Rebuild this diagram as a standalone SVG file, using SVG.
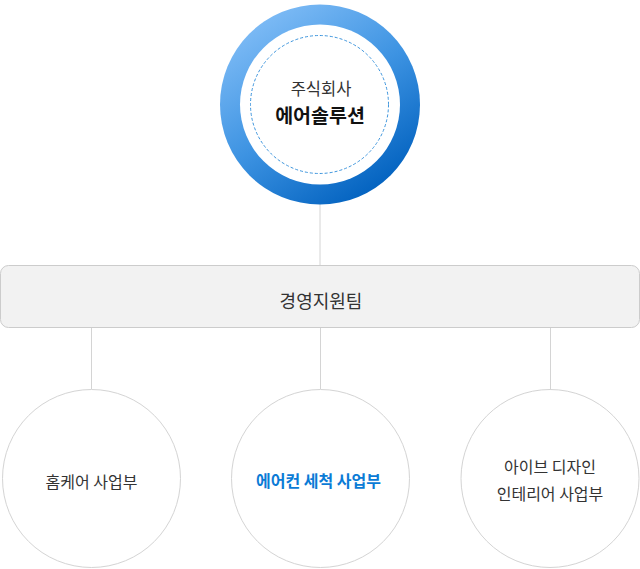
<svg xmlns="http://www.w3.org/2000/svg" width="640" height="569" viewBox="0 0 640 569">
<defs>
<linearGradient id="ring" x1="0.2" y1="0.05" x2="0.8" y2="0.95">
<stop offset="0" stop-color="#7fbcf6"/>
<stop offset="0.5" stop-color="#3d93e2"/>
<stop offset="1" stop-color="#0060be"/>
</linearGradient>
</defs>
<style>
text{font-family:"Noto Sans CJK KR","Noto Sans",sans-serif;text-anchor:middle;fill:#333}
.line{stroke:#d4d4d4;stroke-width:1;fill:none}
.unit{fill:#fff;stroke:#d4d4d4;stroke-width:1}
</style>
<g id="connectors">
<line class="line" x1="320" y1="200" x2="320" y2="265.5"/>
<line class="line" x1="91.5" y1="328" x2="91.5" y2="389"/>
<line class="line" x1="320.5" y1="328" x2="320.5" y2="389"/>
<line class="line" x1="550.5" y1="328" x2="550.5" y2="389"/>
</g>
<g id="company">
<circle cx="320" cy="104.5" r="100" fill="url(#ring)"/>
<circle cx="320" cy="104.5" r="80" fill="#fff"/>
<circle cx="319.5" cy="104.5" r="69" fill="none" stroke="#3d95dd" stroke-width="1" stroke-dasharray="3,2"/>
<text x="321" y="94.5" font-size="16.5">주식회사</text>
<text x="320" y="123" font-size="19.5" font-weight="bold" style="fill:#111">에어솔루션</text>
</g>
<g id="support">
<rect x="0.5" y="265.5" width="639" height="62" rx="8" fill="#f2f2f2" stroke="#cccccc"/>
<text x="321" y="307.5" font-size="18">경영지원팀</text>
</g>
<g id="homecare">
<circle class="unit" cx="91.5" cy="478.5" r="89"/>
<text x="91.5" y="488" font-size="16">홈케어 사업부</text>
</g>
<g id="aircon">
<circle class="unit" cx="320.5" cy="478.5" r="89"/>
<text x="318.5" y="487" font-size="16" font-weight="bold" style="fill:#0a7bd6">에어컨 세척 사업부</text>
</g>
<g id="interior">
<circle class="unit" cx="550" cy="478.5" r="89"/>
<text x="550" y="472.5" font-size="16">아이브 디자인</text>
<text x="550" y="499.5" font-size="16">인테리어 사업부</text>
</g>
</svg>
